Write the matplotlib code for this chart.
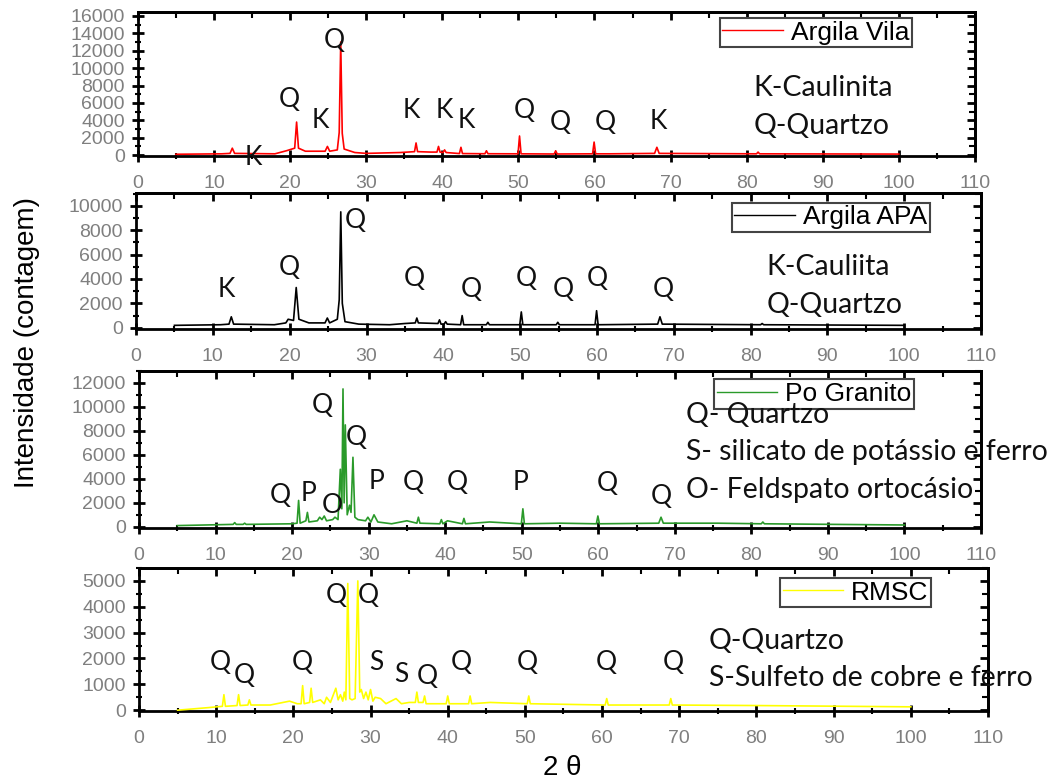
import matplotlib
matplotlib.use('Agg')
import matplotlib.pyplot as plt
from matplotlib.ticker import MultipleLocator
from matplotlib.lines import Line2D

plt.rcParams['font.family'] = ['Liberation Sans', 'DejaVu Sans']

# --- Argila Vila (2 theta, counts)
vila_tt = [5, 11, 12.1, 12.4, 12.7, 18, 19.5, 20.6, 20.85, 21.1, 22, 24.6, 24.9, 25.2,
           26.2, 26.45, 26.65, 26.85, 27.1, 28.5, 30, 34.5, 36.35, 36.55, 36.75,
           38.5, 39.3, 39.5, 39.7, 40.1, 40.3, 40.5, 42.25, 42.45, 42.65, 45.6, 45.8, 46.0,
           49.95, 50.15, 50.35, 54.7, 54.9, 55.1, 59.75, 59.95, 60.15, 62,
           67.9, 68.2, 68.5, 81.3, 81.5, 81.7, 100]
vila_cts = [100, 150, 200, 800, 200, 150, 500, 800, 3800, 800, 450, 450, 1000, 450,
            600, 2600, 13000, 2500, 700, 300, 200, 300, 400, 1400, 400,
            350, 350, 1000, 350, 300, 600, 300, 180, 900, 180, 160, 500, 160,
            150, 2200, 150, 130, 500, 130, 150, 1500, 150, 150,
            200, 900, 200, 150, 350, 150, 120]

# --- Argila APA
apa_tt = [5, 11, 12.1, 12.4, 12.7, 18, 19.5, 19.8, 20.5, 20.85, 21.2, 22.5, 24.6, 24.9, 25.2,
          26.2, 26.45, 26.65, 26.85, 27.2, 29, 33, 35.0, 36.35, 36.55, 36.75,
          39.3, 39.5, 39.7, 40.1, 40.3, 40.5, 42.25, 42.45, 42.65, 45.6, 45.8, 46.0,
          49.95, 50.15, 50.35, 54.7, 54.9, 55.1, 59.75, 59.95, 60.15,
          67.9, 68.2, 68.5, 81.3, 81.5, 81.7, 100]
apa_cts = [200, 250, 300, 900, 300, 250, 400, 700, 600, 3300, 700, 400, 400, 800, 400,
           700, 2300, 9500, 2000, 500, 300, 250, 350, 400, 800, 400,
           350, 650, 300, 300, 500, 300, 250, 1000, 250, 250, 450, 250,
           250, 1300, 250, 250, 450, 250, 250, 1400, 250,
           300, 900, 300, 250, 350, 250, 200]

# --- Po Granito
gran_tt = [5, 12.3, 12.5, 12.7, 13.6, 13.8, 14.0, 20.0, 20.65, 20.85, 21.05, 21.8, 22.0, 22.2,
           23.3, 23.6, 23.9, 24.2, 24.5, 25.3, 25.6, 26.0, 26.3, 26.5, 26.65, 26.8, 26.95, 27.2,
           27.5, 27.7, 27.95, 28.2, 28.6, 29.6, 29.9, 30.3, 30.7, 31.2, 33, 35.0,
           36.3, 36.5, 36.7, 39.3, 39.5, 39.7, 40.3, 42.25, 42.45, 42.65, 45.8,
           49.95, 50.15, 50.35, 55.0, 59.75, 59.95, 60.15, 67.9, 68.2, 68.5, 75.6,
           81.3, 81.5, 81.7, 100]
gran_cts = [100, 200, 350, 200, 200, 300, 200, 250, 300, 2200, 300, 500, 1200, 400,
            500, 800, 600, 900, 500, 600, 800, 600, 4800, 1500, 11500, 2000, 8500, 1000,
            1800, 1200, 5800, 800, 600, 500, 800, 400, 1000, 400, 250, 500,
            300, 800, 300, 250, 600, 250, 500, 250, 700, 250, 400,
            250, 1500, 250, 300, 250, 900, 250, 300, 800, 300, 300,
            250, 400, 250, 150]

# --- RMSC
rmsc_tt = [5, 9, 10.8, 11.0, 11.2, 12.7, 12.9, 13.1, 14.1, 14.3, 14.5, 17, 19.5, 20.5,
           21.0, 21.2, 21.4, 22.1, 22.3, 22.5, 23.5, 24.0, 24.3, 24.8,
           25.5, 25.8, 26.1, 26.4, 26.6, 26.8, 27.05, 27.3, 27.6, 28.0, 28.35,
           28.6, 28.8, 29.1, 29.4, 29.7, 30.0, 30.3, 30.6, 31.3, 32.0, 33.3, 34.0, 35.0,
           35.8, 36.0, 36.2, 36.8, 37.0, 37.2, 39.8, 40.0, 40.2, 42.7, 42.9, 43.1, 45.5,
           50.3, 50.5, 50.7, 60.4, 60.6, 60.8, 68.7, 68.9, 69.1, 80, 100]
rmsc_cts = [0, 100, 150, 600, 150, 180, 600, 180, 200, 400, 200, 200, 350, 250,
            250, 950, 250, 300, 850, 300, 400, 250, 500, 300,
            850, 400, 600, 350, 700, 400, 4900, 450, 400, 450, 5000,
            700, 800, 450, 700, 400, 800, 350, 500, 450, 250, 450, 250, 300,
            300, 700, 300, 300, 550, 250, 250, 550, 250, 250, 550, 250, 300,
            250, 550, 250, 200, 450, 200, 200, 450, 200, 180, 130]

# peak labels (letter, 2theta, counts)
vila_marks = [('Q', 25.8, 13200), ('Q', 19.9, 6450), ('K', 24.0, 3950), ('K', 15.2, -300),
              ('K', 35.9, 5100), ('K', 40.3, 5170), ('K', 43.1, 3950), ('Q', 50.8, 5100),
              ('Q', 55.5, 3750), ('Q', 61.4, 3750), ('K', 68.4, 3860)]
apa_marks = [('K', 11.8, 3100), ('Q', 19.9, 4950), ('Q', 28.6, 8830), ('Q', 36.2, 4080),
             ('Q', 43.6, 3120), ('Q', 50.8, 4000), ('Q', 55.6, 3120), ('Q', 60.0, 4080),
             ('Q', 68.7, 3120)]
gran_marks = [('Q', 24.0, 10140), ('Q', 28.4, 7440), ('Q', 18.4, 2640), ('P', 22.2, 2780),
              ('O', 25.3, 1800), ('P', 31.0, 3750), ('Q', 35.9, 3670), ('Q', 41.6, 3670),
              ('P', 49.9, 3670), ('Q', 61.2, 3640), ('Q', 68.3, 2560)]
rmsc_marks = [('Q', 10.5, 1830), ('Q', 13.7, 1340), ('Q', 21.2, 1830), ('Q', 25.5, 4450),
              ('Q', 29.7, 4450), ('S', 30.7, 1830), ('S', 34.0, 1380), ('Q', 37.3, 1320),
              ('Q', 41.7, 1830), ('Q', 50.3, 1830), ('Q', 60.5, 1830), ('Q', 69.2, 1830)]

vila_notes = [('K-Caulinita', 80.9, 7700), ('Q-Quartzo', 80.9, 3360)]
apa_notes = [('K-Cauliita', 82.1, 4950), ('Q-Quartzo', 82.1, 1900)]
gran_notes = [('Q- Quartzo', 71.5, 9300), ('S- silicato de potássio e ferro', 71.5, 6250),
              ('O- Feldspato ortocásio', 71.5, 3050)]
rmsc_notes = [('Q-Quartzo', 73.8, 2660), ('S-Sulfeto de cobre e ferro', 73.8, 1250)]

panels = [
    dict(name='Argila Vila', tt=vila_tt, cts=vila_cts, color='#ff0000',
         rect=[0.1299, 0.800, 0.7881, 0.1846], ylim=(-100, 16450), major=2000, minor=1000,
         leg=(0.695, 0.958), marks=vila_marks, notes=vila_notes),
    dict(name='Argila APA', tt=apa_tt, cts=apa_cts, color='#000000',
         rect=[0.1281, 0.5782, 0.7957, 0.1744], ylim=(-100, 11050), major=2000, minor=1000,
         leg=(0.705, 0.928), marks=apa_marks, notes=apa_notes),
    dict(name='Po Granito', tt=gran_tt, cts=gran_cts, color='#2a9a2a',
         rect=[0.1309, 0.3231, 0.7928, 0.2013], ylim=(-100, 13000), major=2000, minor=1000,
         leg=(0.683, 0.947), marks=gran_marks, notes=gran_notes),
    dict(name='RMSC', tt=rmsc_tt, cts=rmsc_cts, color='#ffff00',
         rect=[0.1309, 0.0885, 0.7994, 0.1833], ylim=(-30, 5500), major=1000, minor=500,
         leg=(0.755, 0.93), marks=rmsc_marks, notes=rmsc_notes),
]

fig = plt.figure(figsize=(10.62, 7.8), dpi=100)
note_font = ['Lato', 'DejaVu Sans']

for p in panels:
    ax = fig.add_axes(p['rect'])
    ax.plot(p['tt'], p['cts'], color=p['color'], lw=1.2, zorder=3)
    ax.set_xlim(0, 110)
    ax.set_ylim(*p['ylim'])
    ax.xaxis.set_major_locator(MultipleLocator(10))
    ax.xaxis.set_minor_locator(MultipleLocator(5))
    ax.yaxis.set_major_locator(MultipleLocator(p['major']))
    ax.yaxis.set_minor_locator(MultipleLocator(p['minor']))
    ax.tick_params(which='major', direction='inout', length=9, width=2, labelsize=14,
                   labelcolor='#7f7f7f', top=False, right=False)
    ax.tick_params(which='minor', direction='inout', length=5, width=1.5, top=False, right=False)
    ax.tick_params(axis='x', pad=9)
    ax.tick_params(axis='y', pad=5)
    for s in ax.spines.values():
        s.set_linewidth(2)

    # Origin style inward ticks on top and right
    sx = ax.secondary_xaxis('top')
    sx.xaxis.set_major_locator(MultipleLocator(10))
    sx.xaxis.set_minor_locator(MultipleLocator(5))
    sx.tick_params(which='major', direction='in', length=6, width=2, labeltop=False)
    sx.tick_params(which='minor', direction='in', length=4, width=1.5)
    sx.spines['top'].set_linewidth(2)
    sy = ax.secondary_yaxis('right')
    sy.yaxis.set_major_locator(MultipleLocator(p['major']))
    sy.yaxis.set_minor_locator(MultipleLocator(p['minor']))
    sy.tick_params(which='major', direction='in', length=6, width=2, labelright=False)
    sy.tick_params(which='minor', direction='in', length=4, width=1.5)
    sy.spines['right'].set_linewidth(2)

    leg = ax.legend(handles=[Line2D([], [], color=p['color'], lw=1)], labels=[p['name']],
                    loc='upper left', bbox_to_anchor=p['leg'], borderaxespad=0,
                    fancybox=False, edgecolor='#444444', framealpha=1, fontsize=19,
                    handlelength=2.3, handletextpad=0.3, borderpad=0.1)
    leg.get_frame().set_linewidth(1.5)
    leg.set_zorder(2)

    for letter, x, y in p['marks']:
        ax.text(x, y, letter, ha='center', va='center', fontsize=19, family=note_font,
                color='#111111', zorder=6)
    for txt, x, y in p['notes']:
        ax.text(x, y, txt, ha='left', va='center', fontsize=20.5, family=note_font,
                color='#111111', zorder=6)

fig.text(27 / 1062, 1 - 342 / 780, 'Intensidade (contagem)', rotation=90,
         ha='center', va='center', fontsize=20)
fig.text(562 / 1062, 1 - 768 / 780, '2 θ', ha='center', va='center', fontsize=20)

fig.savefig('out.png', dpi=100)
